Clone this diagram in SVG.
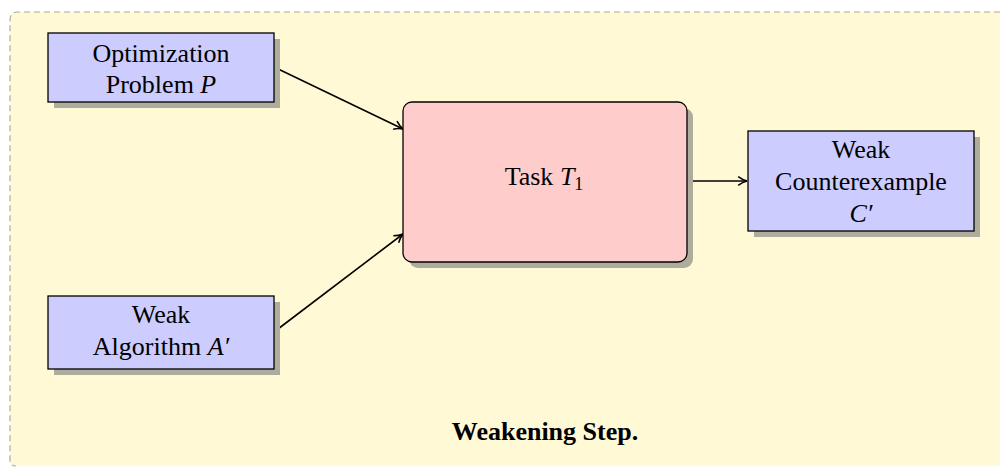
<svg xmlns="http://www.w3.org/2000/svg" width="1000" height="468" viewBox="0 0 1000 468">
  <defs>
    <marker id="arrow" viewBox="0 0 10 10" refX="9" refY="5" markerWidth="11" markerHeight="11" markerUnits="userSpaceOnUse" orient="auto">
      <path d="M1,1 Q5,4 9,5 Q5,6 1,9" fill="none" stroke="#000" stroke-width="1.4"/>
    </marker>
  </defs>
  <style>
    .panel { fill: #fff9d6; }
    .frame { fill: none; stroke: #a8a8a8; stroke-width: 1.2; stroke-dasharray: 6 4; }
    .shadow { fill: #adac9d; }
    .box { fill: #ccccff; stroke: #000; stroke-width: 1.3; }
    .task { fill: #ffcccc; stroke: #000; stroke-width: 1.3; }
    .label { font-family: "Liberation Serif", "Times New Roman", serif; font-size: 26px; text-anchor: middle; fill: #000; }
    .math { font-style: italic; }
    .title { font-family: "Liberation Serif", "Times New Roman", serif; font-size: 26px; font-weight: bold; text-anchor: middle; fill: #000; }
    .edge { fill: none; stroke: #000; stroke-width: 1.6; marker-end: url(#arrow); }
  </style>

  <!-- background panel, open to the right and bottom -->
  <path class="panel" d="M1010,12 L18,12 Q10,12 10,20 L10,460 Q10,466 16,466 L1010,466 Z"/>
  <path class="frame" d="M1010,12 L18,12 Q10,12 10,20 L10,460 Q10,466 16,466"/>

  <g id="edges">
    <line class="edge" x1="274" y1="67" x2="403" y2="129"/>
    <line class="edge" x1="274" y1="332" x2="403" y2="234"/>
    <line class="edge" x1="687" y1="181" x2="747" y2="181"/>
  </g>

  <g id="problem">
    <rect class="shadow" x="54" y="39" width="226" height="69"/>
    <rect class="box" x="48" y="33" width="226" height="69"/>
    <text class="label" x="161" y="62">Optimization</text>
    <text class="label" x="161" y="93">Problem <tspan class="math">P</tspan></text>
  </g>

  <g id="algorithm">
    <rect class="shadow" x="54" y="302" width="226" height="73"/>
    <rect class="box" x="48" y="296" width="226" height="73"/>
    <text class="label" x="161" y="323">Weak</text>
    <text class="label" x="161" y="355">Algorithm <tspan class="math">A′</tspan></text>
  </g>

  <g id="task">
    <rect class="shadow" x="409" y="108" width="284" height="160" rx="9"/>
    <rect class="task" x="403" y="102" width="284" height="160" rx="9"/>
    <text class="label" x="544" y="185">Task <tspan class="math">T</tspan><tspan font-size="18" dy="5">1</tspan></text>
  </g>

  <g id="counterexample">
    <rect class="shadow" x="754" y="137" width="226" height="100"/>
    <rect class="box" x="748" y="131" width="226" height="100"/>
    <text class="label" x="861" y="158">Weak</text>
    <text class="label" x="861" y="190">Counterexample</text>
    <text class="label math" x="861" y="222">C′</text>
  </g>

  <text class="title" x="545" y="440">Weakening Step.</text>
</svg>
